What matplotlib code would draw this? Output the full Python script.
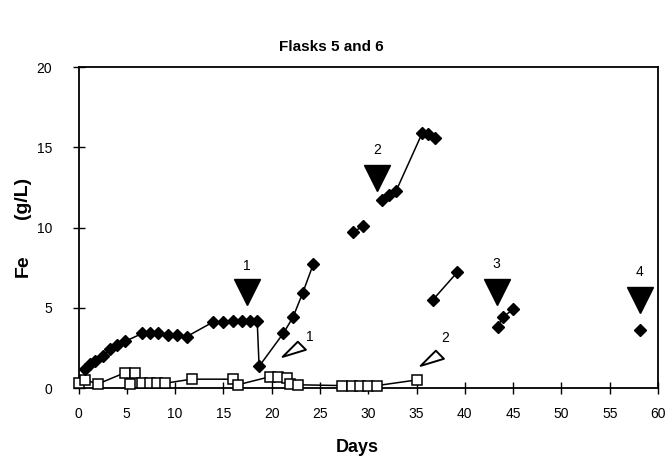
import matplotlib
matplotlib.use("Agg")
import matplotlib.pyplot as plt
from matplotlib.path import Path

plt.rcParams['font.family'] = ['Liberation Sans', 'DejaVu Sans']

# Filled diamonds (Fe, flask 5) - separate connected segments
segA_days = [0.7, 1.2, 1.7, 2.5, 3.3, 4.0, 4.8, 6.6, 7.4, 8.2, 9.3, 10.2, 11.2,
             13.9, 15.0, 16.0, 16.9, 17.8, 18.5, 18.7, 21.2, 22.2, 23.2, 24.3]
segA_fe = [1.2, 1.5, 1.7, 2.0, 2.4, 2.7, 2.9, 3.4, 3.4, 3.4, 3.3, 3.3, 3.2,
           4.1, 4.1, 4.2, 4.2, 4.2, 4.2, 1.35, 3.4, 4.4, 5.9, 7.7]
segB_days = [28.4, 29.5]
segB_fe = [9.7, 10.1]
segC_days = [31.4, 32.2, 32.9, 35.6, 36.2, 36.9]
segC_fe = [11.7, 12.0, 12.3, 15.9, 15.8, 15.6]
segD_days = [36.7, 39.2]
segD_fe = [5.5, 7.2]
segE_days = [43.4, 43.9, 45.0]
segE_fe = [3.8, 4.4, 4.9]
segF_days = [58.1]
segF_fe = [3.6]

# Open squares (flask 6)
sq_days = [0.0, 0.7, 2.0, 4.8, 5.3, 5.8, 6.6, 7.4, 8.1, 9.0, 11.7, 16.0, 16.5,
           19.8, 20.7, 21.6, 21.9, 22.7, 27.3, 28.3, 29.1, 30.0, 30.9, 35.0]
sq_fe = [0.3, 0.5, 0.25, 0.95, 0.25, 0.95, 0.3, 0.3, 0.3, 0.3, 0.55, 0.55, 0.2,
         0.7, 0.7, 0.6, 0.25, 0.2, 0.15, 0.15, 0.15, 0.15, 0.15, 0.5]

# Filled arrow markers (events) and labels
arrow_days = [17.4, 30.9, 43.3, 58.1]
arrow_fe = [6.0, 13.1, 6.0, 5.5]
arrow_labels = ['1', '2', '3', '4']
arrow_label_fe = [7.6, 14.8, 7.7, 7.2]

# Open triangle markers and labels
otri_days = [22.4, 36.7]
otri_fe = [2.4, 1.9]
otri_labels = ['1', '2']
otri_label_days = [24.0, 38.0]
otri_label_fe = [3.2, 3.1]

xticks = list(range(0, 61, 5))
yticks = [0, 5, 10, 15, 20]

fig = plt.figure(figsize=(6.66, 4.72), dpi=100)
ax = fig.add_axes([78.5/666, 1-388/472, (658-78.5)/666, (388-67)/472])

lw = 1.1
for d, v in [(segA_days, segA_fe), (segB_days, segB_fe), (segC_days, segC_fe),
             (segD_days, segD_fe), (segE_days, segE_fe), (segF_days, segF_fe)]:
    ax.plot(d, v, color='black', lw=lw, marker='D', ms=6.5, mfc='black', mec='black',
            zorder=4, clip_on=False)

ax.plot(sq_days, sq_fe, color='black', lw=lw, marker='s', ms=7, mfc='white',
        mec='black', mew=1.1, zorder=3, clip_on=False)

ax.plot(arrow_days, arrow_fe, ls='none', marker='v', ms=19, color='black', zorder=5)
for d, v, t in zip(arrow_days, arrow_label_fe, arrow_labels):
    ax.text(d, v, t, ha='center', va='center', fontsize=10)

tri_path = Path([(-12.7, -7.3), (2.3, 7.7), (10.3, -0.3), (-12.7, -7.3)],
                [Path.MOVETO, Path.LINETO, Path.LINETO, Path.CLOSEPOLY])
ax.plot(otri_days, otri_fe, ls='none', marker=tri_path, ms=18.5, mfc='white',
        mec='black', mew=1.4, zorder=5)
for d, v, t in zip(otri_label_days, otri_label_fe, otri_labels):
    ax.text(d, v, t, ha='center', va='center', fontsize=10)

ax.set_xlim(0, 60)
ax.set_ylim(0, 20)
ax.set_xticks(xticks)
ax.set_yticks(yticks)
ax.tick_params(direction='inout', length=8, width=1, labelsize=10, colors='black')
ax.tick_params(axis='y', pad=15)
ax.tick_params(axis='x', pad=10)
for s in ax.spines.values():
    s.set_linewidth(1.3)

fig.text(357/666, 1-448/472, 'Days', ha='center', va='center',
         fontsize=13, fontweight='bold')
fig.text(23/666, 1-266/472, 'Fe', ha='center', va='center', rotation=90,
         fontsize=14, fontweight='bold')
fig.text(23/666, 1-198/472, '(g/L)', ha='center', va='center', rotation=90,
         fontsize=14, fontweight='bold')
fig.text(331/666, 1-47/472, 'Flasks 5 and 6', ha='center', va='center',
         fontsize=11, fontweight='bold')

fig.savefig('out.png', dpi=100)
